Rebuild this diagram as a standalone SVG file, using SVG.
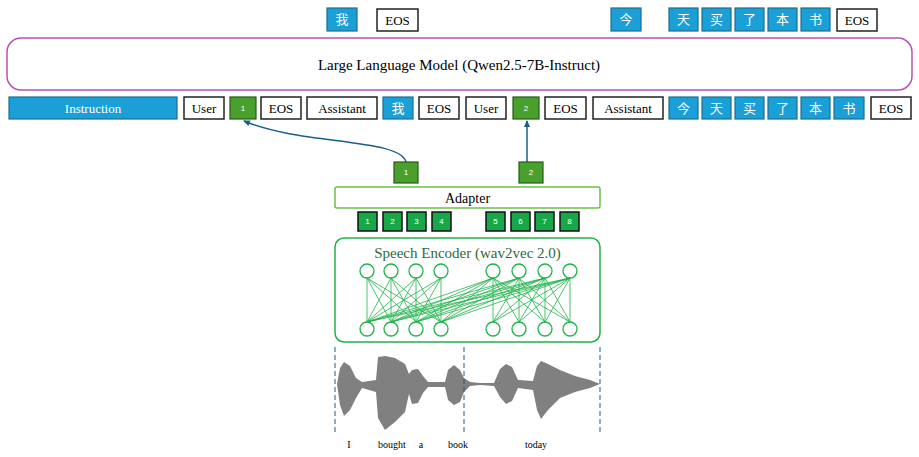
<svg xmlns="http://www.w3.org/2000/svg" width="919" height="457" viewBox="0 0 919 457">
<defs>
<style>
.t{font-family:"Liberation Serif","Noto Sans CJK SC",serif;font-size:13px;text-anchor:middle;dominant-baseline:central}
.w{fill:#fff;stroke:#222;stroke-width:1.5}
.b{fill:#1a9fd6;stroke:#1b6f8f;stroke-width:1.2}
.g{fill:#4aa02c;stroke:#225c15;stroke-width:1.2}
.g2{fill:#17a84a;stroke:#111;stroke-width:1.5}
.wt{fill:#fff}
.n{fill:#fff;stroke:#1fb24a;stroke-width:1.3}
.e{stroke:#1fb24a;stroke-width:0.8}
.s{font-family:"Liberation Sans",sans-serif;font-size:8px;fill:#fff;text-anchor:middle;dominant-baseline:central}
</style>
<marker id="ar" markerWidth="8" markerHeight="8" refX="6" refY="4" orient="auto" markerUnits="userSpaceOnUse"><path d="M0,1 L7,4 L0,7 Z" fill="#1b5f86"/></marker>
</defs>
<rect width="919" height="457" fill="#fff"/>
<g id="outputs">
<rect class="b" x="327" y="8" width="30" height="23"/><text class="t wt" x="342" y="19.5">我</text>
<rect class="w" x="377" y="9" width="41" height="22"/><text class="t" x="397.5" y="20">EOS</text>
<rect class="b" x="611" y="8" width="30" height="23"/><text class="t wt" x="626" y="19.5">今</text>
<rect class="b" x="669" y="8" width="29" height="23"/><text class="t wt" x="683.5" y="19.5">天</text>
<rect class="b" x="702" y="8" width="29" height="23"/><text class="t wt" x="716.5" y="19.5">买</text>
<rect class="b" x="735" y="8" width="29" height="23"/><text class="t wt" x="749.5" y="19.5">了</text>
<rect class="b" x="768" y="8" width="29" height="23"/><text class="t wt" x="782.5" y="19.5">本</text>
<rect class="b" x="801" y="8" width="29" height="23"/><text class="t wt" x="815.5" y="19.5">书</text>
<rect class="w" x="837" y="9" width="40" height="22"/><text class="t" x="857" y="20">EOS</text>
</g>
<g id="llm">
<rect x="7" y="38" width="905" height="52" rx="14" fill="#fff" stroke="#b455b4" stroke-width="1.5"/>
<text class="t" x="459" y="65" style="font-size:15px">Large Language Model (Qwen2.5-7B-Instruct)</text>
</g>
<g id="inputs">
<rect class="b" x="9" y="97" width="168" height="22"/><text class="t wt" x="93" y="108">Instruction</text>
<rect class="w" x="184" y="97" width="40" height="22"/><text class="t" x="204" y="108">User</text>
<rect class="g" x="230" y="97" width="26" height="22"/><text class="s" x="243" y="108">1</text>
<rect class="w" x="261" y="97" width="40" height="22"/><text class="t" x="281" y="108">EOS</text>
<rect class="w" x="307" y="97" width="70" height="22"/><text class="t" x="342" y="108">Assistant</text>
<rect class="b" x="383" y="97" width="30" height="22"/><text class="t wt" x="398" y="108">我</text>
<rect class="w" x="419" y="97" width="40" height="22"/><text class="t" x="439" y="108">EOS</text>
<rect class="w" x="466" y="97" width="40" height="22"/><text class="t" x="486" y="108">User</text>
<rect class="g" x="513" y="97" width="26" height="22"/><text class="s" x="526" y="108">2</text>
<rect class="w" x="545" y="97" width="41" height="22"/><text class="t" x="565.5" y="108">EOS</text>
<rect class="w" x="593" y="97" width="70" height="22"/><text class="t" x="628" y="108">Assistant</text>
<rect class="b" x="669" y="97" width="29" height="22"/><text class="t wt" x="683.5" y="108">今</text>
<rect class="b" x="702" y="97" width="29" height="22"/><text class="t wt" x="716.5" y="108">天</text>
<rect class="b" x="735" y="97" width="29" height="22"/><text class="t wt" x="749.5" y="108">买</text>
<rect class="b" x="768" y="97" width="29" height="22"/><text class="t wt" x="782.5" y="108">了</text>
<rect class="b" x="801" y="97" width="29" height="22"/><text class="t wt" x="815.5" y="108">本</text>
<rect class="b" x="834" y="97" width="30" height="22"/><text class="t wt" x="849" y="108">书</text>
<rect class="w" x="871" y="97" width="40" height="22"/><text class="t" x="891" y="108">EOS</text>
</g>
<g id="connectors" fill="none" stroke="#1b5f86" stroke-width="1.5">
<path d="M406,162 C400,138 300,145 244,121" marker-end="url(#ar)"/>
<path d="M527,162 L527,121" marker-end="url(#ar)"/>
</g>
<g id="adapter-out">
<rect class="g" x="394" y="162" width="24" height="21"/><text class="s" x="406" y="172.5">1</text>
<rect class="g" x="519" y="162" width="24" height="21"/><text class="s" x="531" y="172.5">2</text>
</g>
<g id="adapter">
<rect x="335" y="187" width="265" height="21" fill="#fff" stroke="#6cc04a" stroke-width="1.5" rx="2"/>
<text class="t" x="467.5" y="198" style="font-size:14px">Adapter</text>
</g>
<g id="features">
<rect class="g2" x="358" y="212" width="19" height="19"/><text class="s" x="367.5" y="221.5">1</text>
<rect class="g2" x="383" y="212" width="19" height="19"/><text class="s" x="392.5" y="221.5">2</text>
<rect class="g2" x="407" y="212" width="19" height="19"/><text class="s" x="416.5" y="221.5">3</text>
<rect class="g2" x="432" y="212" width="19" height="19"/><text class="s" x="441.5" y="221.5">4</text>
<rect class="g2" x="486" y="212" width="19" height="19"/><text class="s" x="495.5" y="221.5">5</text>
<rect class="g2" x="511" y="212" width="19" height="19"/><text class="s" x="520.5" y="221.5">6</text>
<rect class="g2" x="535" y="212" width="19" height="19"/><text class="s" x="544.5" y="221.5">7</text>
<rect class="g2" x="560" y="212" width="19" height="19"/><text class="s" x="569.5" y="221.5">8</text>
</g>
<g id="encoder">
<rect x="335" y="238" width="265" height="104" rx="9" fill="#fff" stroke="#1fb24a" stroke-width="1.5"/>
<text class="t" x="467.5" y="253" style="font-size:15px;fill:#2e6b38">Speech Encoder (wav2vec 2.0)</text>
<g class="e">
<path d="M367,322L367,278M367,322L391,278M367,322L416,278M367,322L441,278M367,322L493,278M367,322L519,278M367,322L545,278M367,322L570,278
M391,322L367,278M391,322L391,278M391,322L416,278M391,322L441,278M391,322L493,278M391,322L519,278M391,322L545,278M391,322L570,278
M416,322L367,278M416,322L391,278M416,322L416,278M416,322L441,278M416,322L493,278M416,322L519,278M416,322L545,278M416,322L570,278
M441,322L367,278M441,322L391,278M441,322L416,278M441,322L441,278M441,322L493,278M441,322L519,278M441,322L545,278M441,322L570,278
M493,322L493,278M493,322L519,278M493,322L545,278M493,322L570,278
M519,322L493,278M519,322L519,278M519,322L545,278M519,322L570,278
M545,322L493,278M545,322L519,278M545,322L545,278M545,322L570,278
M570,322L493,278M570,322L519,278M570,322L545,278M570,322L570,278"/>
</g>
<g class="n">
<circle cx="367" cy="271" r="7"/><circle cx="391" cy="271" r="7"/><circle cx="416" cy="271" r="7"/><circle cx="441" cy="271" r="7"/>
<circle cx="493" cy="271" r="7"/><circle cx="519" cy="271" r="7"/><circle cx="545" cy="271" r="7"/><circle cx="570" cy="271" r="7"/>
<circle cx="367" cy="329" r="7"/><circle cx="391" cy="329" r="7"/><circle cx="416" cy="329" r="7"/><circle cx="441" cy="329" r="7"/>
<circle cx="493" cy="329" r="7"/><circle cx="519" cy="329" r="7"/><circle cx="545" cy="329" r="7"/><circle cx="570" cy="329" r="7"/>
</g>
</g>
<g id="waveform">
<g fill="#808080">
<path d="M337,384 L340,368 L344,362 L350,366 L356,378 L362,382 L376,380 L378,357 L385,356 L395,358 L405,364 L409,374 L412,370 L418,369 L423,376 L428,382 L445,382 L448,370 L454,365 L460,370 L464,378 L470,382 L480,383 L494,383 L500,369 L506,364 L512,367 L518,380 L533,381 L537,366 L541,361 L548,364 L560,370 L575,376 L590,380 L600,384 L590,388 L575,392 L560,398 L548,410 L541,419 L537,410 L533,390 L518,388 L512,401 L506,404 L500,397 L494,386 L480,385 L470,386 L464,392 L460,402 L454,405 L448,400 L445,387 L428,387 L423,393 L418,403 L412,404 L409,394 L405,412 L395,422 L385,430 L378,418 L376,392 L362,388 L356,398 L350,410 L344,416 L340,405 Z"/>
</g>
<g stroke="#1b5f86" stroke-width="1" stroke-dasharray="5,3">
<line x1="335" y1="347" x2="335" y2="432"/>
<line x1="464" y1="347" x2="464" y2="432"/>
<line x1="600" y1="347" x2="600" y2="432"/>
</g>
<g class="t" style="font-size:10px">
<text x="349" y="444">I</text>
<text x="392" y="444">bought</text>
<text x="421" y="444">a</text>
<text x="458" y="444">book</text>
<text x="536" y="444">today</text>
</g>
</g>
</svg>
